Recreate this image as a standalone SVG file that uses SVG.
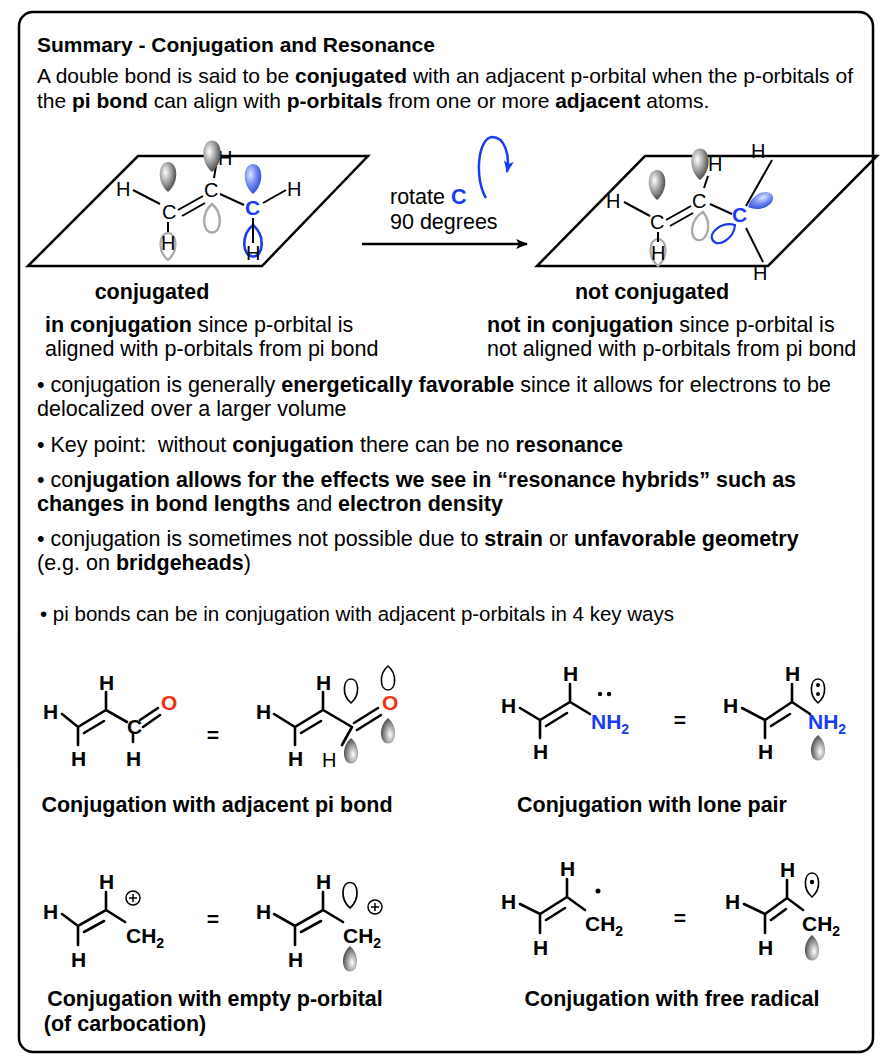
<svg xmlns="http://www.w3.org/2000/svg" width="892" height="1060" viewBox="0 0 892 1060">
<style>
text{font-family:"Liberation Sans",Arial,sans-serif;fill:#000}
.t{font-size:21.5px}
.b{font-weight:bold}
.m{font-size:21px;font-weight:bold}
.n{font-size:20px}
.lab{font-size:21.5px;font-weight:bold}
.blue{fill:#1a3cf0}
.red{fill:#f03010}
.bd{stroke:#000;stroke-width:2.6;fill:none;stroke-linecap:round}
.thin{stroke:#000;stroke-width:2;fill:none}
.pl{stroke:#000;stroke-width:2.5;fill:none;stroke-linejoin:miter}
</style>
<defs>
<radialGradient id="gg" cx="0.35" cy="0.35" r="0.75">
<stop offset="0" stop-color="#fff"/><stop offset="0.5" stop-color="#999"/><stop offset="1" stop-color="#333"/>
</radialGradient>
<radialGradient id="bg" cx="0.35" cy="0.35" r="0.75">
<stop offset="0" stop-color="#dde4ff"/><stop offset="0.5" stop-color="#6f86f0"/><stop offset="1" stop-color="#2040d0"/>
</radialGradient>
<path id="lobe" d="M0,0 C-12,-10 -10,-30 0,-30 C10,-30 12,-10 0,0Z"/>
<marker id="ah" viewBox="0 0 12 10" refX="11" refY="5" markerWidth="12" markerHeight="10" markerUnits="userSpaceOnUse" orient="auto"><path d="M0,0 L12,5 L0,10 L3,5Z" fill="#000"/></marker>
<marker id="bah" viewBox="0 0 12 10" refX="11" refY="5" markerWidth="12" markerHeight="10" markerUnits="userSpaceOnUse" orient="auto"><path d="M0,0 L12,5 L0,10 L3,5Z" fill="#1a3cf0"/></marker>
</defs>
<rect x="19" y="12" width="854" height="1040" rx="14" fill="#fff" stroke="#000" stroke-width="2.5"/>

<g id="header">
<text x="37" y="52" class="b" font-size="21">Summary - Conjugation and Resonance</text>
<text x="37" y="83" font-size="21">A double bond is said to be <tspan class="b">conjugated</tspan> with an adjacent p-orbital when the p-orbitals of</text>
<text x="37" y="108" font-size="21">the <tspan class="b">pi bond</tspan> can align with <tspan class="b">p-orbitals</tspan> from one or more <tspan class="b">adjacent</tspan> atoms.</text>
</g>

<g id="left-plane">
<path class="pl" d="M28,266 L138,156 L368,156 L262,266 Z"/>
<use href="#lobe" transform="translate(168,260) scale(0.9)" fill="#fff" stroke="#aaa" stroke-width="2.5"/>
<use href="#lobe" transform="translate(212,204) rotate(180) scale(0.95)" fill="#fff" stroke="#aaa" stroke-width="2.5"/>
<use href="#lobe" transform="translate(253,225) rotate(180) scale(1.05)" fill="#fff" stroke="#1a3cf0" stroke-width="2.5"/>
<line class="thin" x1="133" y1="190" x2="160" y2="204"/>
<line class="thin" x1="178" y1="210" x2="203" y2="196"/>
<line class="thin" x1="182" y1="216" x2="205" y2="203"/>
<line class="thin" x1="220" y1="194" x2="244" y2="205"/>
<line class="thin" x1="263" y1="203" x2="286" y2="190"/>
<line class="thin" x1="168" y1="222" x2="168" y2="232"/>
<line class="thin" x1="253" y1="218" x2="253" y2="243"/>
<line class="thin" x1="214" y1="178" x2="216" y2="166"/>
<text x="116" y="196" class="n">H</text>
<text x="162" y="219" class="n">C</text>
<text x="204" y="197" class="n">C</text>
<text x="245" y="215" class="m blue" font-size="20">C</text>
<text x="287" y="196" class="n">H</text>
<text x="161" y="250" class="n">H</text>
<text x="246" y="260" class="n">H</text>
<text x="218" y="165" class="n">H</text>
<use href="#lobe" transform="translate(168,192)" fill="url(#gg)"/>
<use href="#lobe" transform="translate(212,172) scale(1.05)" fill="url(#gg)"/>
<use href="#lobe" transform="translate(253,194)" fill="url(#bg)"/>
<text x="152" y="299" class="lab" text-anchor="middle">conjugated</text>
</g>

<g id="rotation">
<text x="390" y="204" class="t">rotate <tspan class="b blue">C</tspan></text>
<text x="390" y="229" class="t">90 degrees</text>
<path d="M486,198 C474,178 478,138 492,137 C505,137 510,155 507,172" fill="none" stroke="#1a3cf0" stroke-width="2.5" marker-end="url(#bah)"/>
</g>

<g id="connectors">
<line x1="362" y1="244" x2="527" y2="244" stroke="#000" stroke-width="2.5" marker-end="url(#ah)"/>
</g>

<g id="right-plane">
<path class="pl" d="M537,266 L645,156 L877,156 L768,266 Z"/>
<use href="#lobe" transform="translate(658,266) scale(0.9)" fill="#fff" stroke="#aaa" stroke-width="2.5"/>
<use href="#lobe" transform="translate(703,212) rotate(190) scale(0.95)" fill="#fff" stroke="#aaa" stroke-width="2.5"/>
<use href="#lobe" transform="translate(735,225) rotate(235) scale(0.9)" fill="#fff" stroke="#1a3cf0" stroke-width="2.5"/>
<line class="thin" x1="624" y1="202" x2="650" y2="216"/>
<line class="thin" x1="666" y1="220" x2="691" y2="206"/>
<line class="thin" x1="670" y1="226" x2="693" y2="213"/>
<line class="thin" x1="710" y1="204" x2="732" y2="214"/>
<line class="thin" x1="658" y1="232" x2="658" y2="242"/>
<line class="thin" x1="746" y1="206" x2="772" y2="160"/>
<line class="thin" x1="746" y1="228" x2="763" y2="262"/>
<line class="thin" x1="704" y1="188" x2="708" y2="176"/>
<text x="606" y="208" class="n">H</text>
<text x="650" y="229" class="n">C</text>
<text x="692" y="208" class="n">C</text>
<text x="732" y="222" class="m blue" font-size="20">C</text>
<text x="751" y="158" class="n">H</text>
<text x="753" y="280" class="n">H</text>
<text x="651" y="260" class="n">H</text>
<text x="708" y="171" class="n">H</text>
<use href="#lobe" transform="translate(657,200)" fill="url(#gg)"/>
<use href="#lobe" transform="translate(700,180) scale(1.05)" fill="url(#gg)"/>
<use href="#lobe" transform="translate(748,207) rotate(65) scale(0.9)" fill="url(#bg)"/>
<text x="652" y="299" class="lab" text-anchor="middle">not conjugated</text>
</g>

<g id="explanations">
<text x="45" y="332" class="t"><tspan class="b">in conjugation</tspan> since p-orbital is</text>
<text x="45" y="356" class="t">aligned with p-orbitals from pi bond</text>
<text x="487" y="332" class="t"><tspan class="b">not in conjugation</tspan> since p-orbital is</text>
<text x="487" y="356" class="t">not aligned with p-orbitals from pi bond</text>
<text x="37" y="392" class="t">• conjugation is generally <tspan class="b">energetically favorable</tspan> since it allows for electrons to be</text>
<text x="37" y="416" class="t">delocalized over a larger volume</text>
<text x="37" y="452" class="t" xml:space="preserve">• Key point:  without <tspan class="b">conjugation</tspan> there can be no <tspan class="b">resonance</tspan></text>
<text x="37" y="487" class="t">• co<tspan class="b">njugation allows for the effects we see in “resonance hybrids” such as</tspan></text>
<text x="37" y="511" class="t b">changes in bond lengths <tspan font-weight="normal">and</tspan> electron density</text>
<text x="37" y="546" class="t">• conjugation is sometimes not possible due to <tspan class="b">strain</tspan> or <tspan class="b">unfavorable geometry</tspan></text>
<text x="37" y="570" class="t">(e.g. on <tspan class="b">bridgeheads</tspan>)</text>
<text x="40" y="621" font-size="20.5">• pi bonds can be in conjugation with adjacent p-orbitals in 4 key ways</text>
</g>

<g id="acrolein">
<path class="bd" d="M62,714 L78,727 L106,710 L127,722 M78,727 L78,745 M106,710 L106,692 M133,733 L133,742"/>
<path class="bd" d="M84,733 L104,721"/>
<path class="bd" d="M140,720 L158,708 M143,727 L160,715"/>
<text x="43" y="719" class="m">H</text>
<text x="71" y="766" class="m">H</text>
<text x="99" y="690" class="m">H</text>
<text x="127" y="734" class="m">C</text>
<text x="126" y="766" class="m">H</text>
<text x="161" y="710" class="m red">O</text>
<text x="213" y="742" class="m" text-anchor="middle">=</text>
<path class="bd" d="M274,714 L295,727 L323,710 L352,727 M295,727 L295,745 M323,710 L323,692 M352,727 L342,745"/>
<path class="bd" d="M301,733 L321,721"/>
<path class="bd" d="M354,723 L378,708 M357,730 L381,715"/>
<text x="256" y="719" class="m">H</text>
<text x="288" y="766" class="m">H</text>
<text x="316" y="690" class="m">H</text>
<text x="322" y="767" class="n">H</text>
<text x="382" y="710" class="m red">O</text>
<use href="#lobe" transform="translate(351,703) scale(0.8)" fill="#fff" stroke="#000" stroke-width="2"/>
<use href="#lobe" transform="translate(388,666) rotate(180) scale(0.8)" fill="#fff" stroke="#000" stroke-width="2"/>
<use href="#lobe" transform="translate(351,738) rotate(180) scale(0.85)" fill="url(#gg)"/>
<use href="#lobe" transform="translate(388,718) rotate(180) scale(0.85)" fill="url(#gg)"/>
<text x="217" y="812" class="lab" text-anchor="middle">Conjugation with adjacent pi bond</text>
</g>

<g id="enamine">
<path class="bd" d="M520,708 L540,720 L570,702 L590,714 M540,720 L540,738 M570,702 L570,684"/>
<path class="bd" d="M546,726 L567,713"/>
<circle cx="600" cy="694" r="2.2"/><circle cx="609" cy="694" r="2.2"/>
<text x="501" y="713" class="m">H</text>
<text x="533" y="759" class="m">H</text>
<text x="563" y="681" class="m">H</text>
<text x="591" y="729" class="m blue">NH<tspan font-size="14" dy="5">2</tspan></text>
<text x="680" y="727" class="m" text-anchor="middle">=</text>
<path class="bd" d="M742,708 L765,720 L792,702 L810,714 M765,720 L765,738 M792,702 L792,684"/>
<path class="bd" d="M771,726 L790,714"/>
<text x="723" y="713" class="m">H</text>
<text x="758" y="759" class="m">H</text>
<text x="785" y="681" class="m">H</text>
<text x="808" y="729" class="m blue">NH<tspan font-size="14" dy="5">2</tspan></text>
<use href="#lobe" transform="translate(818,703) scale(0.8)" fill="#fff" stroke="#000" stroke-width="2"/>
<circle cx="818" cy="685" r="2"/><circle cx="818" cy="694" r="2"/>
<use href="#lobe" transform="translate(818,735) rotate(180) scale(0.85)" fill="url(#gg)"/>
<text x="652" y="812" class="lab" text-anchor="middle">Conjugation with lone pair</text>
</g>

<g id="carbocation">
<path class="bd" d="M62,914 L78,926 L106,910 L125,922 M78,926 L78,945 M106,910 L106,892"/>
<path class="bd" d="M84,932 L104,921"/>
<text x="43" y="919" class="m">H</text>
<text x="71" y="967" class="m">H</text>
<text x="99" y="889" class="m">H</text>
<text x="126" y="943" class="m">CH<tspan font-size="14" dy="5">2</tspan></text>
<circle cx="133" cy="898" r="7" fill="none" stroke="#000" stroke-width="1.5"/>
<path d="M129,898 H137 M133,894 V902" stroke="#000" stroke-width="1.5"/>
<text x="213" y="926" class="m" text-anchor="middle">=</text>
<path class="bd" d="M274,914 L295,926 L323,910 L343,922 M295,926 L295,945 M323,910 L323,892"/>
<path class="bd" d="M301,932 L321,921"/>
<text x="256" y="919" class="m">H</text>
<text x="288" y="967" class="m">H</text>
<text x="316" y="889" class="m">H</text>
<text x="343" y="943" class="m">CH<tspan font-size="14" dy="5">2</tspan></text>
<use href="#lobe" transform="translate(350,908) scale(0.85)" fill="#fff" stroke="#000" stroke-width="2"/>
<circle cx="375" cy="907" r="7" fill="none" stroke="#000" stroke-width="1.5"/>
<path d="M371,907 H379 M375,903 V911" stroke="#000" stroke-width="1.5"/>
<use href="#lobe" transform="translate(350,946) rotate(180) scale(0.85)" fill="url(#gg)"/>
<text x="215" y="1006" class="lab" text-anchor="middle">Conjugation with empty p-orbital</text>
<text x="125" y="1031" class="lab" text-anchor="middle">(of carbocation)</text>
</g>

<g id="radical">
<path class="bd" d="M520,904 L540,914 L567,897 L585,910 M540,914 L540,933 M567,897 L567,879"/>
<path class="bd" d="M546,920 L565,908"/>
<circle cx="598" cy="891" r="2.5"/>
<text x="501" y="909" class="m">H</text>
<text x="533" y="955" class="m">H</text>
<text x="560" y="876" class="m">H</text>
<text x="585" y="931" class="m">CH<tspan font-size="14" dy="5">2</tspan></text>
<text x="680" y="925" class="m" text-anchor="middle">=</text>
<path class="bd" d="M744,904 L765,914 L787,898 L803,910 M765,914 L765,933 M787,898 L787,880"/>
<path class="bd" d="M771,920 L786,909"/>
<text x="725" y="909" class="m">H</text>
<text x="758" y="955" class="m">H</text>
<text x="780" y="877" class="m">H</text>
<text x="802" y="931" class="m">CH<tspan font-size="14" dy="5">2</tspan></text>
<use href="#lobe" transform="translate(812,897) scale(0.8)" fill="#fff" stroke="#000" stroke-width="2"/>
<circle cx="812" cy="882" r="2.2"/>
<use href="#lobe" transform="translate(812,935) rotate(180) scale(0.85)" fill="url(#gg)"/>
<text x="672" y="1006" class="lab" text-anchor="middle">Conjugation with free radical</text>
</g>
</svg>
